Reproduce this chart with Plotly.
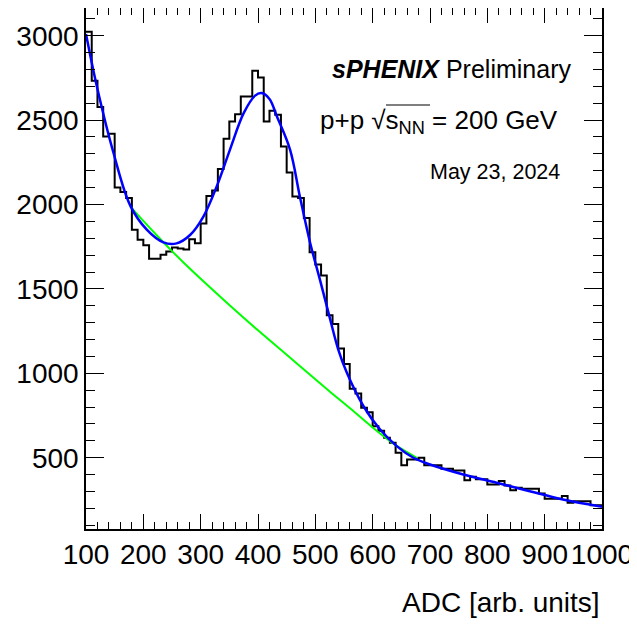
import plotly.graph_objects as go

# ---- data ----
bin_low = 100
bin_width = 10
counts = [3024, 2733, 2577, 2403, 2419, 2101, 2074, 2038, 1851, 1792,
          1758, 1679, 1679, 1703, 1722, 1746, 1740, 1733, 1794, 1770,
          1888, 2050, 2083, 2210, 2390, 2492, 2534, 2640, 2640, 2792,
          2752, 2492, 2555, 2531, 2344, 2190, 2048, 2038, 1920, 1717,
          1644, 1579, 1344, 1292, 1147, 1056, 908, 880, 796, 770,
          687, 660, 618, 589, 530, 456, 490, 490, 500, 456,
          455, 455, 435, 435, 425, 425, 367, 388, 372, 372,
          342, 342, 362, 336, 308, 322, 317, 317, 317, 289,
          257, 257, 257, 273, 234, 243, 243, 243, 218, 218]

fit_x = [100, 119, 148, 177, 206, 235, 258, 282, 305, 328, 351, 375, 395, 406,
         420, 433, 456, 473, 491, 508, 526, 540, 555, 584, 613, 642, 671, 700,
         758, 816, 874, 932, 1000]
fit_y = [3010, 2699, 2305, 1995, 1851, 1776, 1770, 1821, 1930, 2107, 2324, 2541,
         2645, 2660, 2625, 2521, 2324, 2048, 1772, 1555, 1318, 1141, 1003, 805,
         667, 569, 500, 460, 401, 352, 302, 253, 210]

bkg_x = [177, 200, 225, 250, 275, 300, 350, 400, 450, 500, 526, 560, 607, 640, 677]
bkg_y = [1989, 1903, 1812, 1724, 1640, 1560, 1405, 1255, 1110, 965, 890, 795, 660, 575, 500]

x_ticks = [100, 200, 300, 400, 500, 600, 700, 800, 900, 1000]
y_ticks = [500, 1000, 1500, 2000, 2500, 3000]

# ---- build step histogram ----
edges = [bin_low + bin_width * i for i in range(len(counts) + 1)]
step_y = counts + [counts[-1]]

# the page body adds an 8 px offset; lay the figure out in page pixels
OFF = 8
W, H = 637 - OFF, 626 - OFF
L, R, T, B = 86 - OFF, 35, 8 - OFF, 97
PW, PH = W - L - R, H - T - B


def px(xp):
    """page x pixel -> paper fraction"""
    return (xp - OFF - L) / PW


def py(yp):
    """page y pixel -> paper fraction"""
    return (T + PH - (yp - OFF)) / PH


fig = go.Figure()
fig.add_trace(go.Scatter(x=edges, y=step_y, mode="lines", line_shape="hv",
                         line=dict(color="black", width=2), showlegend=False))
fig.add_trace(go.Scatter(x=bkg_x, y=bkg_y, mode="lines", line_shape="spline",
                         line=dict(color="#00ff00", width=2), showlegend=False))
fig.add_trace(go.Scatter(x=fit_x, y=fit_y, mode="lines", line_shape="spline",
                         line=dict(color="#0000ff", width=2.5), showlegend=False))

font = "Liberation Sans, Arial, Helvetica, sans-serif"

fig.update_layout(
    width=W, height=H,
    margin=dict(l=L, r=R, t=T, b=B, autoexpand=False),
    paper_bgcolor="white", plot_bgcolor="white",
    font=dict(family=font, color="black"),
    xaxis=dict(range=[100, 1000], tickvals=x_ticks, ticktext=[str(v) for v in x_ticks],
               ticks="inside", ticklen=15, tickwidth=1.2, tickcolor="black",
               minor=dict(dtick=20, ticks="inside", ticklen=7, tickwidth=1.2, tickcolor="black"),
               showline=True, linecolor="black", linewidth=1.5, mirror="ticks",
               showgrid=False, zeroline=False, automargin=False,
               tickfont=dict(size=28, family=font, color="black")),
    yaxis=dict(range=[78, 3164], tickvals=y_ticks, ticktext=[str(v) for v in y_ticks],
               ticks="inside", ticklen=18, tickwidth=1.2, tickcolor="black",
               minor=dict(dtick=100, ticks="inside", ticklen=9, tickwidth=1.2, tickcolor="black"),
               showline=True, linecolor="black", linewidth=1.5, mirror="ticks",
               showgrid=False, zeroline=False, automargin=False,
               tickfont=dict(size=28, family=font, color="black")),
)

fig.add_annotation(xref="paper", yref="paper", x=1.0, y=py(602), xanchor="right", yanchor="middle",
                   text="ADC [arb. units]", showarrow=False,
                   font=dict(size=28, family=font, color="black"))
fig.add_annotation(xref="paper", yref="paper", x=px(330), y=py(69), xanchor="left", yanchor="middle",
                   text="<b><i>sPHENIX</i></b> Preliminary", showarrow=False,
                   font=dict(size=25, family=font, color="black"))
fig.add_annotation(xref="paper", yref="paper", x=px(318), y=py(121), xanchor="left", yanchor="middle",
                   text="p+p √s<sub>NN</sub> = 200 GeV",
                   showarrow=False, font=dict(size=26, family=font, color="black"))
# overline of the square-root sign
fig.add_shape(type="line", xref="paper", yref="paper",
              x0=px(386), x1=px(430), y0=py(105), y1=py(105),
              line=dict(color="black", width=1.2))
fig.add_annotation(xref="paper", yref="paper", x=px(428), y=py(171.5), xanchor="left", yanchor="middle",
                   text="May 23, 2024", showarrow=False,
                   font=dict(size=21.5, family=font, color="black"))

fig.write_html("out.html")
